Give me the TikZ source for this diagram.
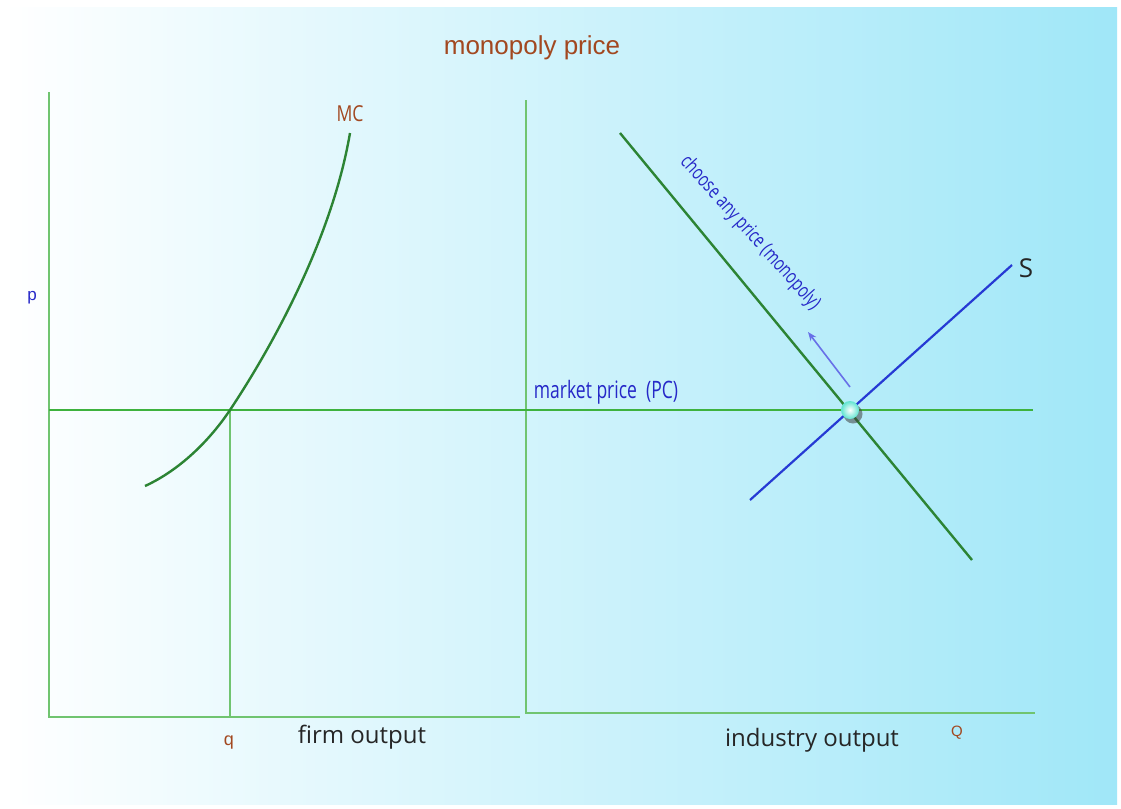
\documentclass[tikz,border=0pt]{standalone}
\usepackage{fontspec}
\setmainfont{Open Sans}
\newfontfamily\arialf{Liberation Sans}
\usetikzlibrary{arrows.meta}
\definecolor{bgM}{RGB}{214,245,251}
\definecolor{bgR}{RGB}{160,231,248}
\definecolor{axisgreen}{RGB}{112,196,112}
\definecolor{pricegreen}{RGB}{62,178,62}
\definecolor{curvegreen}{RGB}{44,132,52}
\definecolor{sblue}{RGB}{38,58,212}
\definecolor{arrowblue}{RGB}{104,112,232}
\definecolor{tbrown}{RGB}{162,72,32}
\definecolor{tblue}{RGB}{38,40,200}
\definecolor{dotaqua}{RGB}{96,228,208}
\tikzset{
  axisline/.style={draw=axisgreen, line width=2pt},
  priceline/.style={draw=pricegreen, line width=2pt},
  curveline/.style={draw=curvegreen, line width=2.4pt},
  supplyline/.style={draw=sblue, line width=2.2pt},
  lbl/.style={inner sep=0pt, anchor=center},
  brownlbl/.style={lbl, text=tbrown},
  bluelbl/.style={lbl, text=tblue},
  blacklbl/.style={lbl, text=black!85}
}
\begin{document}
\begin{tikzpicture}[x=1pt,y=-1pt]
\useasboundingbox (0,0) rectangle (1121,808);
\fill[white] (0,0) rectangle (1121,808);
\shade[left color=white, middle color=bgM, right color=bgR] (4,8) rectangle (1117,804);

% coordinates
\coordinate (L0) at (49,717);
\coordinate (Ltop) at (49,92);
\coordinate (Lend) at (520,717);
\coordinate (R0) at (526,713);
\coordinate (Rtop) at (526,100);
\coordinate (Rend) at (1035,713);
\coordinate (P0) at (49,410);
\coordinate (P1) at (1033,410);
\coordinate (E) at (230,410);
\coordinate (Qf) at (230,717);
\coordinate (MC0) at (145,486);
\coordinate (MC1) at (350,133);
\coordinate (D0) at (620,133);
\coordinate (D1) at (972,560);
\coordinate (S0) at (750,500);
\coordinate (S1) at (1012,265);
\coordinate (A0) at (850,387);
\coordinate (A1) at (808,332);

% axes
\draw[axisline] (Ltop) -- (L0) -- (Lend);
\draw[axisline] (Rtop) -- (R0) -- (Rend);
% market price line
\draw[priceline] (P0) -- (P1);
% firm output drop line
\draw[axisline] (E) -- (Qf);
% MC curve
\draw[curveline] (MC0) .. controls (180,470) and (210,440) .. (E)
  .. controls (260,365) and (330,250) .. (MC1);
% demand
\draw[curveline] (D0) -- (D1);
% supply
\draw[supplyline] (S0) -- (S1);
% arrow
\draw[draw=arrowblue, line width=1.6pt, -{Stealth[length=9pt,width=7pt]}] (A0) -- (A1);
% intersection dot
\fill[black!75, opacity=0.55] (853,414) circle (9.5);
\shade[inner color=white, outer color=dotaqua] (850,410) circle (9);
\node[inner sep=0pt, minimum size=18pt] (dot) at (850,410) {};

% labels
\node[brownlbl, font=\arialf\fontsize{26}{30}\selectfont] (title) at (532,48) {monopoly price};
\node[brownlbl, font=\fontsize{22}{26}\selectfont] (mc) at (350,114) {\scalebox{0.8}[1]{MC}};
\node[bluelbl, font=\arialf\fontsize{17}{20}\selectfont] (p) at (32,298) {p};
\node[brownlbl, font=\arialf\fontsize{18}{20}\selectfont] (q) at (229,743) {q};
\node[blacklbl, font=\fontsize{24}{28}\selectfont] (firm) at (362,737) {firm output};
\node[blacklbl, font=\fontsize{24}{28}\selectfont] (ind) at (812,740) {industry output};
\node[brownlbl, font=\arialf\fontsize{15}{18}\selectfont] (Q) at (957,733) {Q};
\node[blacklbl, font=\fontsize{26}{30}\selectfont] (S) at (1026,268) {S};
\node[bluelbl, font=\fontsize{24}{28}\selectfont] (mp) at (606,392) {\scalebox{0.73}[1]{market price\ \ (PC)}};
\node[bluelbl, font=\fontsize{20}{24}\selectfont, rotate=-48] (choose) at (750,233) {\scalebox{0.74}[1]{choose any price (monopoly)}};
\end{tikzpicture}
\end{document}
